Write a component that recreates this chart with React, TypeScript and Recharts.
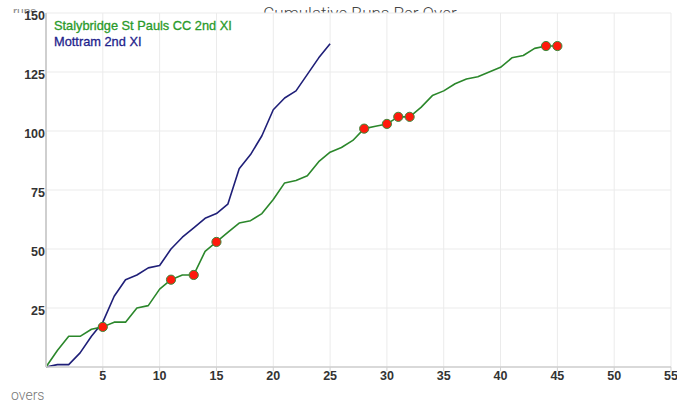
import React from 'react';
import { LineChart, Line, XAxis, YAxis, CartesianGrid } from 'recharts';

const overs = [0, 1, 2, 3, 4, 5, 6, 7, 8, 9, 10, 11, 12, 13, 14, 15, 16, 17, 18, 19, 20, 21, 22, 23, 24, 25, 26, 27, 28, 29, 30, 31, 32, 33, 34, 35, 36, 37, 38, 39, 40, 41, 42, 43, 44, 45];
const stalybridge = [0, 7, 13, 13, 16, 17, 19, 19, 25, 26, 33, 37, 39, 39, 49, 53, 57, 61, 62, 65, 71, 78, 79, 81, 87, 91, 93, 96, 101, 102, 103, 106, 106, 110, 115, 117, 120, 122, 123, 125, 127, 131, 132, 135, 136, 136];
const mottram = [0, 1, 1, 6, 13, 19, 30, 37, 39, 42, 43, 50, 55, 59, 63, 65, 69, 84, 90, 98, 109, 114, 117, 124, 131, 137];
const stalybridgeWickets = [5, 11, 13, 15, 28, 30, 31, 32, 44, 45];
const xTicks = [5, 10, 15, 20, 25, 30, 35, 40, 45, 50, 55];
const yTicks = [25, 50, 75, 100, 125, 150];

const seriesNames = ['Stalybridge St Pauls CC 2nd XI', 'Mottram 2nd XI'];
const title = 'Cumulative Runs Per Over';

const data = overs.map((o, i) => ({
  over: o,
  stalybridge: stalybridge[i],
  mottram: i < mottram.length ? mottram[i] : undefined,
}));

const GREEN_LINE = '#2b872b';
const BLUE_LINE = '#1f1f78';
const GREEN_TEXT = '#2a9a2a';
const BLUE_TEXT = '#1e1e8c';
const FONT = '"Liberation Sans", Arial, sans-serif';

const YTick = (props: any) => {
  const { x, y, payload } = props;
  return (
    <text x={x} y={y + 4} textAnchor="end" dominantBaseline="middle" fontSize={12.5} fill="#333" fontFamily={FONT} style={{ fontWeight: 600 }}>
      {payload.value}
    </text>
  );
};

const XTick = (props: any) => {
  const { x, y, payload } = props;
  return (
    <text x={x} y={y + 5.5} textAnchor="middle" dominantBaseline="middle" fontSize={12.5} fill="#333" fontFamily={FONT} style={{ fontWeight: 600 }}>
      {payload.value}
    </text>
  );
};

const WicketDot = (props: any) => {
  const { cx, cy, payload, index } = props;
  if (payload && stalybridgeWickets.includes(payload.over)) {
    return <circle key={`w-${index}`} cx={cx} cy={cy} r={4.6} fill="#ff1a0d" stroke="#3d8a3d" strokeWidth={1} />;
  }
  return <g key={`n-${index}`} />;
};

export default function App() {
  return (
    <div style={{ position: 'absolute', left: 0, top: 0, width: 696, height: 405, background: '#fff', overflow: 'hidden' }}>
      <svg width={696} height={13} style={{ position: 'absolute', left: 0, top: 0 }}>
        <text x={360} y={19} textAnchor="middle" fontSize={17} fill="#444" fontFamily="Roboto, sans-serif" style={{ fontWeight: 300 }}>
          {title}
        </text>
        <text x={13} y={15.5} fontSize={12} fill="#888" fontFamily={FONT}>runs</text>
      </svg>
      <div style={{ position: 'absolute', left: 0, top: 0, width: 677, height: 405, overflow: 'hidden' }}>
        <LineChart width={677} height={405} data={data} margin={{ top: 13, right: 6, bottom: 0, left: 0 }}>
          <CartesianGrid stroke="#ebebeb" strokeWidth={1} />
          <XAxis
            dataKey="over"
            type="number"
            domain={[0, 55]}
            ticks={xTicks}
            height={38}
            axisLine={{ stroke: '#cfcfcf', strokeWidth: 1.5 }}
            tickLine={{ stroke: '#cfcfcf' }}
            tickSize={4}
            tickMargin={0}
            tick={<XTick />}
            interval={0}
          />
          <YAxis
            type="number"
            domain={[0, 150]}
            ticks={yTicks}
            width={46}
            axisLine={{ stroke: '#cfcfcf', strokeWidth: 2 }}
            tickLine={false}
            tickSize={0}
            tickMargin={1}
            tick={<YTick />}
            interval={0}
          />
          <Line
            type="linear"
            dataKey="mottram"
            stroke={BLUE_LINE}
            strokeWidth={1.6}
            strokeLinejoin="round"
            dot={false}
            activeDot={false}
            isAnimationActive={false}
          />
          <Line
            type="linear"
            dataKey="stalybridge"
            stroke={GREEN_LINE}
            strokeWidth={1.6}
            strokeLinejoin="round"
            dot={WicketDot}
            activeDot={false}
            isAnimationActive={false}
          />
        </LineChart>
      </div>
      <div style={{ position: 'absolute', left: 54, top: 18, fontFamily: FONT, fontSize: 12.8, lineHeight: '15.5px', WebkitTextStroke: '0.3px' } as any}>
        <div style={{ color: GREEN_TEXT, WebkitTextStrokeColor: GREEN_TEXT } as any}>{seriesNames[0]}</div>
        <div style={{ color: BLUE_TEXT, WebkitTextStrokeColor: BLUE_TEXT } as any}>{seriesNames[1]}</div>
      </div>
      <svg width={120} height={30} style={{ position: 'absolute', left: 0, top: 380 }}>
        <text x={11} y={20} fontSize={14} fill="#777" fontFamily="Roboto, sans-serif" style={{ fontWeight: 300 }}>overs</text>
      </svg>
    </div>
  );
}
